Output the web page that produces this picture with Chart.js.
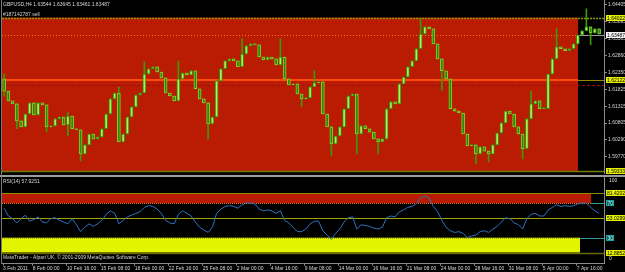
<!DOCTYPE html>
<html>
<head>
<meta charset="utf-8">
<script src="https://cdn.jsdelivr.net/npm/chart.js@4.4.0/dist/chart.umd.min.js"></script>
<style>
  body { margin: 0; background: #000; }
  #wrap { position: relative; width: 625px; height: 272px; overflow: hidden; background: #000; }
  #main { position: absolute; left: 0; top: 0; }
  #rsi { position: absolute; left: 0; top: 177px; }
  #sep { position: absolute; left: 0; top: 175px; width: 625px; height: 2px; background: #9c9c9c; }
  #edge { position: absolute; left: 1px; top: 0; width: 1px; height: 264px; background: #7a7a7a; }
</style>
</head>
<body>
<div id="wrap">
  <canvas id="main" width="625" height="175"></canvas>
  <div id="sep"></div>
  <canvas id="rsi" width="625" height="95"></canvas>
  <div id="edge"></div>
</div>
<script>
// GBPUSD H4, 3 Feb - 8 Apr 2011
// one candle = two H4 bars, prices in pips above 1.5900
const firstOpen = 315;
const closePips = [
  278, 248, 239, 187, 169, 208, 242, 205, 242, 236,
  169, 172, 193, 199, 175, 202, 163, 160, 86, 114,
  147, 132, 138, 163, 208, 254, 272, 123, 147, 199,
  230, 266, 272, 330, 346, 352, 336, 318, 272, 263,
  248, 315, 333, 327, 340, 285, 254, 242, 178, 199,
  309, 346, 370, 376, 370, 352, 391, 416, 422, 419,
  382, 373, 382, 376, 358, 382, 315, 297, 300, 269,
  254, 257, 291, 303, 306, 208, 169, 117, 141, 169,
  224, 263, 269, 147, 172, 163, 153, 132, 123, 132,
  224, 245, 239, 300, 321, 352, 370, 407, 452, 474,
  468, 422, 376, 340, 315, 224, 217, 211, 147, 111,
  114, 86, 108, 95, 86, 114, 150, 181, 217, 208,
  169, 147, 102, 193, 239, 248, 224, 224, 330, 376,
  413, 407, 401, 407, 422, 449, 462, 474, 455, 468,
  452
];
// [candle, high, low] only where the wick sticks out of the body
const wickPips = [
  [0, 330, 263], [3, null, 163], [10, null, 153], [15, 214, 141], [18, null, 65],
  [27, 291, null], [33, 367, null], [41, 370, null], [48, null, 132], [56, 437, null],
  [65, 437, null], [70, null, 230], [73, 340, null], [77, null, 80], [83, null, 86],
  [88, null, 86], [98, 498, null], [103, null, 280], [111, null, 56], [114, null, 62],
  [122, null, 71], [124, 278, null], [130, 468, null], [137, 529, null], [138, null, 419]
];
const rsiValues = [
  64, 55, 52, 47, 52, 56, 49, 51, 54, 48,
  47, 52, 53, 50, 48, 46, 52, 45, 37, 42,
  46, 43, 46, 50, 57, 61, 58, 46, 50, 54,
  56, 58, 60, 65, 67, 66, 63, 58, 50, 47,
  46, 57, 61, 58, 55, 48, 42, 39, 36, 42,
  58, 63, 66, 67, 66, 64, 68, 70, 70, 69,
  63, 61, 62, 61, 58, 61, 50, 47, 42, 37,
  37, 40, 46, 49, 49, 38, 33, 28, 35, 40,
  48, 53, 54, 40, 45, 44, 43, 41, 40, 42,
  53, 55, 54, 60, 62, 65, 66, 69, 76, 78,
  76, 66, 60, 50, 42, 38, 36, 37, 35, 30,
  32, 33, 37, 38, 36, 40, 43, 48, 53, 52,
  47, 45, 40, 52, 57, 58, 55, 55, 62, 65,
  68, 66, 67, 66, 67, 69, 70, 70, 65, 61,
  58
];

const priceTicks = [1.64405, 1.63895, 1.63385, 1.62860, 1.62350, 1.61825, 1.61315, 1.60805, 1.60290, 1.59770];
const dateBars = [0, 14, 30, 46, 62, 78, 94, 110, 126, 142, 158, 174, 190, 206, 222, 238, 254, 270];
const dateLabels = ['3 Feb 2011', '8 Feb 00:00', '10 Feb 16:00', '15 Feb 08:00', '18 Feb 00:00', '22 Feb 16:00',
  '25 Feb 08:00', '2 Mar 00:00', '4 Mar 16:00', '9 Mar 08:00', '14 Mar 00:00', '16 Mar 16:00',
  '21 Mar 08:00', '24 Mar 00:00', '28 Mar 16:00', '31 Mar 08:00', '5 Apr 00:00', '7 Apr 16:00'];

// chart objects
const orderLine = 1.64022;
const bidLine = 1.63487;
const hLine = 1.62122;
const stopLine = 1.61965;
const lowLine = 1.59333;
const rsiUpper = 81.4202;
const rsiMid = 53.0299;
const rsiLower = 12.8852;
const rsiLevels = [70, 30];
const mainRectEnd = 270.6;
const rsiRedEnd = 276.7;
const rsiYellowEnd = 271.5;

const FONT = '5px "Liberation Sans"';
const TXT = '#d4d4d4';
const AXIS = '#8a8a8a';

const px = p => 1.59 + p / 10000;

const bodies = [], wicks = [], bodyFill = [], bodyEdge = [];
closePips.forEach((c, i) => {
  const o = i === 0 ? firstOpen : closePips[i - 1];
  const x = i * 2 + 0.5;
  const w = wickPips.find(e => e[0] === i);
  const hi = w && w[1] != null ? w[1] : Math.max(o, c);
  const lo = w && w[2] != null ? w[2] : Math.min(o, c);
  bodies.push({ x: x, y: [px(o), px(c)] });
  wicks.push({ x: x, y: [px(lo), px(hi)] });
  bodyFill.push(c >= o ? '#b4f050' : '#2a880c');
  bodyEdge.push(c >= o ? '#2f9410' : '#86d42a');
});
const rsiPoints = rsiValues.map((v, i) => ({ x: i * 2 + 0.5, y: v }));

function hline(ctx, x0, x1, yPix, color, width, dash) {
  ctx.save();
  ctx.strokeStyle = color;
  ctx.lineWidth = width;
  ctx.setLineDash(dash || []);
  const yy = width % 2 ? Math.round(yPix) + 0.5 : Math.round(yPix);
  ctx.beginPath();
  ctx.moveTo(x0, yy);
  ctx.lineTo(x1, yy);
  ctx.stroke();
  ctx.restore();
}

function tag(ctx, yPix, text, fill, color, x0, w) {
  const yy = Math.round(yPix);
  ctx.fillStyle = fill;
  ctx.fillRect(x0, yy - 3, w, 6);
  ctx.fillStyle = color;
  ctx.textBaseline = 'middle';
  ctx.fillText(text, x0 + 1, yy + 0.5);
}

const mainDecor = {
  id: 'mainDecor',
  beforeDatasetsDraw(chart) {
    const { ctx, chartArea: a, scales: { x, y } } = chart;
    const rx = x.getPixelForValue(mainRectEnd);
    ctx.save();
    ctx.fillStyle = '#b91c02';
    const top = y.getPixelForValue(orderLine);
    ctx.fillRect(a.left, top, rx - a.left, y.getPixelForValue(lowLine) - top);
    hline(ctx, a.left, a.right, y.getPixelForValue(stopLine), '#a00e0e', 1, [3, 2]);
    hline(ctx, a.left, rx, y.getPixelForValue(bidLine), '#ff7524', 1, [1, 2]);
    hline(ctx, rx, a.right, y.getPixelForValue(bidLine), '#9a9a9a', 1);
    hline(ctx, a.left, rx, y.getPixelForValue(hLine), '#ff4c0c', 2);
    hline(ctx, rx, a.right, y.getPixelForValue(hLine), '#8c8c00', 1);
    hline(ctx, a.left, a.right, top, '#84960a', 1.5, [2, 1]);
    hline(ctx, a.left, a.right, y.getPixelForValue(lowLine), '#707c00', 1.5);
    ctx.restore();
  },
  afterDraw(chart) {
    const { ctx, scales: { y } } = chart;
    ctx.save();
    ctx.font = FONT;
    ctx.fillStyle = TXT;
    ctx.textBaseline = 'middle';
    ctx.fillText('GBPUSD,H4 1.63544 1.63645 1.63461 1.63487', 3, 5);
    ctx.fillText('#187142787 sell', 3, 15);
    tag(ctx, y.getPixelForValue(orderLine), orderLine.toFixed(5), '#e6f000', '#000', 606, 19);
    tag(ctx, y.getPixelForValue(bidLine), bidLine.toFixed(5), '#f2f2f2', '#000', 606, 19);
    tag(ctx, y.getPixelForValue(hLine), hLine.toFixed(5), '#e6f000', '#000', 606, 19);
    tag(ctx, y.getPixelForValue(lowLine), lowLine.toFixed(5), '#e6f000', '#000', 606, 19);
    ctx.restore();
  }
};

const rsiDecor = {
  id: 'rsiDecor',
  beforeDatasetsDraw(chart) {
    const { ctx, chartArea: a, scales: { x, y } } = chart;
    const redEnd = x.getPixelForValue(rsiRedEnd);
    const yelEnd = x.getPixelForValue(rsiYellowEnd);
    ctx.save();
    ctx.fillStyle = '#b91c02';
    ctx.fillRect(a.left, y.getPixelForValue(rsiUpper), redEnd - a.left,
      y.getPixelForValue(rsiLevels[0]) - y.getPixelForValue(rsiUpper));
    ctx.fillStyle = '#e4f300';
    ctx.fillRect(a.left, y.getPixelForValue(rsiLevels[1]), yelEnd - a.left,
      y.getPixelForValue(rsiLower) - y.getPixelForValue(rsiLevels[1]));
    hline(ctx, a.left, a.right, y.getPixelForValue(rsiUpper), '#8c8c00', 1);
    hline(ctx, a.left, a.right, y.getPixelForValue(rsiMid), '#a4a400', 1);
    hline(ctx, a.left, a.right, y.getPixelForValue(rsiLower), '#6a6a00', 1.5);
    hline(ctx, a.left, redEnd, y.getPixelForValue(rsiLevels[0]), '#ff7a1e', 1, [1, 1]);
    hline(ctx, redEnd, a.right, y.getPixelForValue(rsiLevels[0]), '#2a9a9a', 1);
    hline(ctx, a.left, yelEnd, y.getPixelForValue(rsiLevels[1]), '#9ab000', 1, [1, 1]);
    hline(ctx, yelEnd, a.right, y.getPixelForValue(rsiLevels[1]), '#2a9a9a', 1);
    ctx.restore();
  },
  afterDraw(chart) {
    const { ctx, scales: { y } } = chart;
    ctx.save();
    ctx.font = FONT;
    ctx.fillStyle = TXT;
    ctx.textBaseline = 'middle';
    ctx.fillText('RSI(14) 57.9251', 3, 5);
    ctx.fillText('MetaTrader - Alpari UK, \u00a9 2001-2009 MetaQuotes Software Corp.', 3, 81);
    ctx.fillText('100', 609, 4);
    ctx.fillText('0', 609, 82);
    tag(ctx, y.getPixelForValue(rsiUpper), rsiUpper.toFixed(4), '#e6f000', '#000', 606, 19);
    tag(ctx, y.getPixelForValue(rsiMid), rsiMid.toFixed(4), '#e6f000', '#000', 606, 19);
    tag(ctx, y.getPixelForValue(rsiLower), rsiLower.toFixed(4), '#e6f000', '#000', 606, 19);
    rsiLevels.forEach(v => {
      const yy = Math.round(y.getPixelForValue(v));
      ctx.fillStyle = '#1aa6a6';
      ctx.fillRect(606, yy - 3, 8, 6);
      ctx.fillStyle = '#0b5c5c';
      ctx.fillRect(607, yy - 2, 6, 4);
      ctx.fillStyle = '#bff';
      ctx.fillText(String(v), 607.5, yy + 0.5);
    });
    ctx.restore();
  }
};

const xRange = { type: 'linear', min: -0.5, max: 282.8, offset: false };

const mainChart = new Chart(document.getElementById('main'), {
  type: 'bar',
  data: {
    datasets: [{
      label: 'body',
      data: bodies,
      grouped: false,
      barThickness: 3,
      minBarLength: 1,
      backgroundColor: bodyFill,
      borderColor: bodyEdge,
      borderWidth: 1,
      borderSkipped: false,
      order: 0
    }, {
      label: 'wick',
      data: wicks,
      grouped: false,
      barThickness: 1,
      minBarLength: 1,
      backgroundColor: '#3c9a08',
      order: 1
    }]
  },
  options: {
    responsive: false,
    animation: false,
    layout: { padding: { left: 2, top: 0, right: 0, bottom: 2 } },
    plugins: { legend: { display: false }, tooltip: { enabled: false } },
    scales: {
      x: Object.assign({ display: false }, xRange),
      y: {
        position: 'right',
        min: 1.59281,
        max: 1.64557,
        afterBuildTicks: s => { s.ticks = priceTicks.map(v => ({ value: v })); },
        afterFit: s => { s.width = 21; s.paddingTop = 0; s.paddingBottom = 0; },
        ticks: {
          autoSkip: false,
          padding: 1,
          color: TXT,
          font: { family: 'Liberation Sans', size: 5 },
          callback: v => v.toFixed(5)
        },
        grid: { drawOnChartArea: false, tickLength: 3, color: AXIS },
        border: { color: AXIS }
      }
    }
  },
  plugins: [mainDecor]
});

const rsiChart = new Chart(document.getElementById('rsi'), {
  type: 'line',
  data: {
    datasets: [{
      label: 'RSI(14)',
      data: rsiPoints,
      borderColor: '#2f72c0',
      borderWidth: 1,
      pointRadius: 0,
      tension: 0
    }]
  },
  options: {
    responsive: false,
    animation: false,
    layout: { padding: { left: 2, top: 0, right: 0, bottom: 0 } },
    plugins: { legend: { display: false }, tooltip: { enabled: false } },
    scales: {
      x: Object.assign({
        position: 'bottom',
        afterBuildTicks: s => { s.ticks = dateBars.map(v => ({ value: v })); },
        afterFit: s => { s.height = 8.3; s.paddingLeft = 0; s.paddingRight = 0; },
        ticks: {
          autoSkip: false,
          maxRotation: 0,
          align: 'start',
          padding: 0,
          color: TXT,
          font: { family: 'Liberation Sans', size: 5 },
          callback: (v, i) => dateLabels[i]
        },
        grid: { drawOnChartArea: false, tickLength: 2, color: AXIS },
        border: { color: AXIS }
      }, xRange),
      y: {
        position: 'right',
        min: 0,
        max: 100,
        afterFit: s => { s.width = 21; s.paddingTop = 0; s.paddingBottom = 0; },
        ticks: { display: false },
        grid: { drawOnChartArea: false, drawTicks: false },
        border: { color: AXIS }
      }
    }
  },
  plugins: [rsiDecor]
});
</script>
</body>
</html>
